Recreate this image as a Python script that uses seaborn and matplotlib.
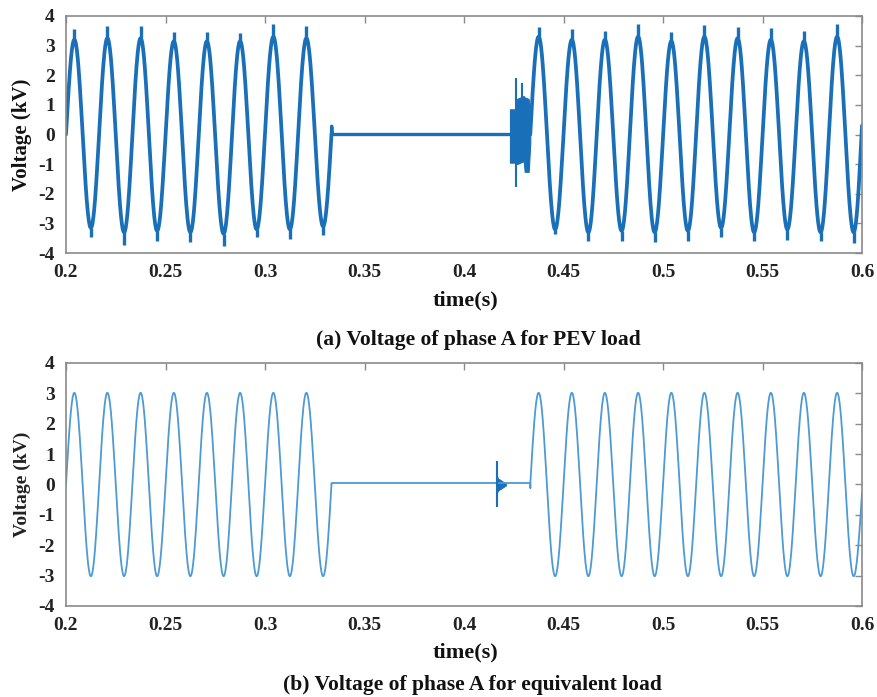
import numpy as np
import pandas as pd
import matplotlib
matplotlib.use("Agg")
import matplotlib.pyplot as plt
import seaborn as sns

# ---------------- data ----------------
# Panel (a): PEV load. Knots = zero crossings / extremes (time s, voltage kV)
a1_t = [0.2000, 0.2042, 0.2125, 0.2208, 0.2292, 0.2375, 0.2458, 0.2542, 0.2625,
        0.2708, 0.2792, 0.2875, 0.2958, 0.3042, 0.3125, 0.3208, 0.3292, 0.3334]
a1_v = [0.0, 3.2, -3.15, 3.25, -3.3, 3.25, -3.25, 3.15, -3.3,
        3.15, -3.35, 3.15, -3.2, 3.3, -3.2, 3.25, -3.1, 0.0]
a_flat_t = [0.3334, 0.3335, 0.3338, 0.4231]
a_flat_v = [0.0, 0.28, 0.0, 0.0]
a2_t = [0.4333, 0.4375, 0.4458, 0.4542, 0.4625, 0.4708, 0.4792, 0.4875, 0.4958,
        0.5042, 0.5125, 0.5208, 0.5292, 0.5375, 0.5458, 0.5542, 0.5625, 0.5708,
        0.5792, 0.5875, 0.5958, 0.6000]
a2_v = [0.0, 3.3, -3.2, 3.2, -3.3, 3.2, -3.25, 3.3, -3.3,
        3.15, -3.25, 3.3, -3.15, 3.25, -3.3, 3.2, -3.2, 3.15,
        -3.3, 3.3, -3.3, 0.3]
# noise spikes at extremes (time, spike value)
a_spike_t = [0.2042, 0.2125, 0.2208, 0.2292, 0.2375, 0.2458, 0.2542, 0.2625,
             0.2708, 0.2792, 0.2875, 0.2958, 0.3042, 0.3125, 0.3208, 0.3292,
             0.4375, 0.4458, 0.4542, 0.4625, 0.4708, 0.4792, 0.4875, 0.4958,
             0.5042, 0.5125, 0.5208, 0.5292, 0.5375, 0.5458, 0.5542, 0.5625,
             0.5708, 0.5792, 0.5875, 0.5958]
a_spike_v = [3.57, -3.46, 3.65, -3.72, 3.65, -3.6, 3.46, -3.64,
             3.46, -3.77, 3.43, -3.46, 3.74, -3.53, 3.65, -3.38,
             3.64, -3.35, 3.55, -3.6, 3.5, -3.6, 3.72, -3.62,
             3.45, -3.6, 3.7, -3.45, 3.62, -3.6, 3.6, -3.55,
             3.5, -3.6, 3.72, -3.65]
# burst before reconnection (envelope)
a_burst_t = [0.4231, 0.4262, 0.4266, 0.4300, 0.4305, 0.4325, 0.4333]
a_burst_hi = [0.85, 0.85, 1.2, 1.3, 1.25, 1.2, 0.3]
a_burst_lo = [-0.95, -0.95, -1.0, -0.9, -1.26, -1.26, -0.3]
a_burst_spike_t = [0.4261, 0.4293]
a_burst_spike_lo = [-1.76, -0.9]
a_burst_spike_hi = [1.9, 1.74]

# Panel (b): equivalent load
b1_t = a1_t
b1_v = [0.0, 3.02, -3.02, 3.02, -3.02, 3.02, -3.02, 3.02, -3.02,
        3.02, -3.02, 3.02, -3.02, 3.02, -3.02, 3.02, -3.02, 0.0]
b_flat_t = [0.3334, 0.3335, 0.4333, 0.43335, 0.4333]
b_flat_v = [0.0, 0.05, 0.05, -0.12, 0.0]
b2_t = a2_t
b2_v = [0.0, 3.02, -3.02, 3.02, -3.02, 3.02, -3.02, 3.02, -3.02,
        3.02, -3.02, 3.02, -3.02, 3.02, -3.02, 3.02, -3.02, 3.02,
        -3.02, 3.02, -3.02, -0.28]
b_burst_t = [0.4164, 0.4172, 0.4212]
b_burst_hi = [0.3, 0.2, 0.03]
b_burst_lo = [-0.3, -0.2, -0.03]
b_spike_t = [0.4164]
b_spike_lo = [-0.73]
b_spike_hi = [0.78]

x_ticks = [0.2, 0.25, 0.3, 0.35, 0.4, 0.45, 0.5, 0.55, 0.6]
x_ticklabels = ["0.2", "0.25", "0.3", "0.35", "0.4", "0.45", "0.5", "0.55", "0.6"]
y_ticks = [-4, -3, -2, -1, 0, 1, 2, 3, 4]


def shaped(ts, vs, n=40):
    """Sinusoidal shaping between successive read knots."""
    out_t, out_v = [], []
    for i in range(len(ts) - 1):
        t0, t1, v0, v1 = ts[i], ts[i + 1], vs[i], vs[i + 1]
        s = np.linspace(0, 1, n, endpoint=False)
        if abs(v0) < 0.4 and abs(v1) > 1:
            v = v0 + (v1 - v0) * np.sin(np.pi / 2 * s)
        elif abs(v1) < 0.4 and abs(v0) > 1:
            v = v0 + (v1 - v0) * (1 - np.cos(np.pi / 2 * s))
        else:
            v = v0 + (v1 - v0) * (1 - np.cos(np.pi * s)) / 2
        out_t.extend(t0 + (t1 - t0) * s)
        out_v.extend(v)
    out_t.append(ts[-1])
    out_v.append(vs[-1])
    return out_t, out_v


sns.set_theme(style="white")
plt.rcParams["font.family"] = ["Liberation Serif", "DejaVu Serif"]
plt.rcParams["font.weight"] = "bold"

fig = plt.figure(figsize=(8.77, 6.97), dpi=100)
ax_a = fig.add_axes([66 / 877, 1 - 253 / 697, (862 - 66) / 877, (253 - 16) / 697])
ax_b = fig.add_axes([66 / 877, 1 - 606 / 697, (862 - 66) / 877, (606 - 363) / 697])

col_a = "#1a70b8"
col_b = "#4d9ad4"

# ---- panel (a)
for ts, vs in [(a1_t, a1_v), (a2_t, a2_v)]:
    t, v = shaped(ts, vs)
    sns.lineplot(x=t, y=v, ax=ax_a, color=col_a, lw=2.7, sort=False, estimator=None)
sns.lineplot(x=a_flat_t, y=a_flat_v, ax=ax_a, color=col_a, lw=2.4, sort=False, estimator=None)
centers = dict(zip(a1_t + a2_t, a1_v + a2_v))
ax_a.vlines(a_spike_t, [centers[t] for t in a_spike_t], a_spike_v, color=col_a, lw=2.4)
ax_a.fill_between(a_burst_t, a_burst_lo, a_burst_hi, color=col_a, lw=0.8)
ax_a.vlines(a_burst_spike_t, a_burst_spike_lo, a_burst_spike_hi, color=col_a, lw=1.5)

# ---- panel (b)
for ts, vs in [(b1_t, b1_v), (b2_t, b2_v)]:
    t, v = shaped(ts, vs)
    sns.lineplot(x=t, y=v, ax=ax_b, color=col_b, lw=1.3, sort=False, estimator=None)
sns.lineplot(x=b_flat_t, y=b_flat_v, ax=ax_b, color=col_b, lw=1.3, sort=False, estimator=None)
ax_b.fill_between(b_burst_t, b_burst_lo, b_burst_hi, color="#1a70b8", lw=0.5)
ax_b.vlines(b_spike_t, b_spike_lo, b_spike_hi, color="#1a70b8", lw=1.5)

for ax in (ax_a, ax_b):
    ax.set_xlim(0.2, 0.6)
    ax.set_ylim(-4, 4)
    ax.set_xticks(x_ticks)
    ax.set_xticklabels(x_ticklabels)
    ax.set_yticks(y_ticks)
    ax.set_yticklabels([str(y) for y in y_ticks])
    ax.set_xlabel("")
    ax.set_ylabel("")
    ax.tick_params(direction="in", length=5, width=1, color="#8a8a8a",
                   top=True, right=True, labelsize=14, pad=8,
                   labelcolor="#222222")
    for lab in ax.get_xticklabels() + ax.get_yticklabels():
        lab.set_fontweight("bold")
    for sp in ax.spines.values():
        sp.set_color("#8a8a8a")
        sp.set_linewidth(1.2)
        sp.set_visible(True)
    ax.grid(False)
    ax.set_facecolor("white")

txt = dict(fontweight="bold", color="#111111")
fig.text(22 / 877, 1 - 135 / 697, "Voltage (kV)", rotation=90, ha="center",
         va="center", fontsize=15, **txt)
fig.text(22 / 877, 1 - 484 / 697, "Voltage (kV)", rotation=90, ha="center",
         va="center", fontsize=14, fontweight="semibold", color="#222222")
fig.text(465 / 877, 1 - 300 / 697, "time(s)", ha="center", va="center",
         fontsize=16, **txt)
fig.text(478 / 877, 1 - 340 / 697, "(a) Voltage of phase A for PEV load",
         ha="center", va="center", fontsize=15.5, **txt)
fig.text(465 / 877, 1 - 652 / 697, "time(s)", ha="center", va="center",
         fontsize=16, **txt)
fig.text(472 / 877, 1 - 685 / 697, "(b) Voltage of phase A for equivalent load",
         ha="center", va="center", fontsize=15.5, **txt)

fig.savefig("out.png", dpi=100, facecolor="white")
